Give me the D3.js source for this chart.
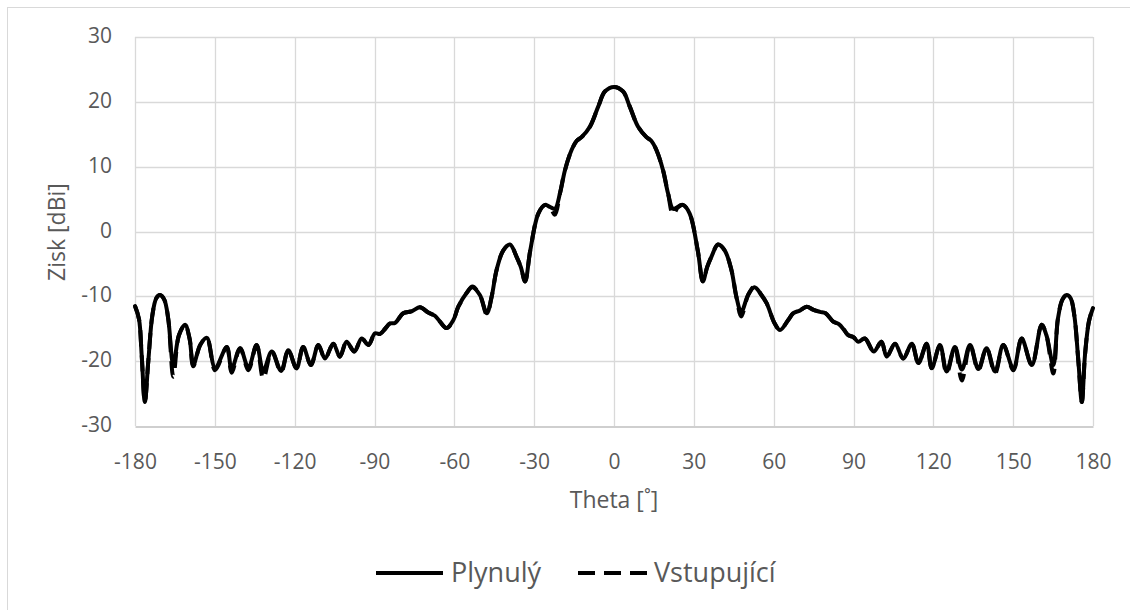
<!DOCTYPE html>
<html>
<head>
<meta charset="utf-8">
<script src="https://cdn.jsdelivr.net/npm/d3@7"></script>
<style>
  html, body { margin: 0; padding: 0; background: #fff; }
  svg { display: block; }
  text { font-family: "Open Sans", "Liberation Sans", sans-serif; fill: #595959; }
</style>
</head>
<body>
<svg id="chart" width="1130" height="610"></svg>
<script>
// ---- data ----
const seriesNames = ["Plynulý", "Vstupující"];
const xTicks = [-180, -150, -120, -90, -60, -30, 0, 30, 60, 90, 120, 150, 180];
const yTicks = [-30, -20, -10, 0, 10, 20, 30];

const theta = [
  -180, -178.5, -177.5, -176.3, -175, -173.5, -172, -170.6, -169, -167.5,
  -165.6, -163.5, -161.2, -159.5, -158.1, -155.5, -153, -149.9, -145.5, -143.7,
  -140.5, -137.4, -134.3, -131.8, -128.6, -125.1, -122.4, -119.3, -116.8, -113.9,
  -111.1, -108.6, -105.5, -103, -100.5, -97.6, -94.8, -92.3, -89.8, -87.9,
  -86, -84.2, -82.3, -79.2, -76, -72.9, -69.8, -67.3, -65.4, -62.9,
  -60.4, -58.5, -55.4, -53.2, -50.4, -47.8, -46, -44.1, -41.6, -39.1,
  -36.6, -35, -33.4, -31.5, -28.4, -25.9, -24.1, -22.2, -20.3, -18.4,
  -15.9, -14, -12.1, -9, -5.9, -3.4, 0, 3.4, 5.9, 9,
  12.1, 14, 15.9, 18.4, 20.3, 22.2, 24.1, 25.9, 28.4, 31.5,
  33.4, 35, 36.6, 39.1, 41.6, 44.1, 46, 47.8, 50.4, 52.8,
  55.4, 57.4, 60.4, 62.4, 65.4, 67.4, 69.8, 72.4, 75, 77.4,
  79.5, 82.4, 84.5, 86.5, 88, 90, 91.8, 94.3, 97.6, 100.5,
  102.5, 105.6, 108.7, 111.9, 114.4, 117.5, 119.4, 122.5, 125, 128.1,
  130.7, 133.8, 136.9, 140, 143.2, 146.3, 150.1, 153.2, 157, 160.7,
  162.5, 165.1, 166.8, 168.5, 170.1, 171.6, 173, 174.5, 175.8, 177,
  178.5, 180
];

const plynuly = [
  -11.5, -13.5, -19, -26.3, -20, -13, -10.3, -9.8, -10.5, -13.5,
  -20.6, -16, -14.4, -16.5, -20.6, -17.5, -16.4, -21, -17.8, -21.2,
  -18, -21, -17.5, -21.5, -18.5, -21.5, -18.3, -21.1, -17.8, -20.6,
  -17.5, -19.6, -17.3, -19.3, -17, -18.5, -16.5, -17.5, -15.7, -15.8,
  -15, -14.2, -14.1, -12.6, -12.3, -11.7, -12.5, -13, -13.9, -14.9,
  -13.7, -11.6, -9.5, -8.6, -9.8, -12.6, -10.1, -5.9, -2.9, -2,
  -3.9, -5.5, -7.7, -3, 2.8, 4.1, 3.8, 3.5, 5.9, 9.5,
  12.6, 14, 14.6, 16.2, 19.3, 21.6, 22.3, 21.6, 19.3, 16.2,
  14.6, 14, 12.6, 9.5, 5.9, 3.5, 3.8, 4.1, 2.8, -3,
  -7.7, -5.5, -3.9, -2, -2.9, -5.9, -10.1, -12.4, -9.8, -8.6,
  -9.8, -11.1, -14.2, -15.2, -13.7, -12.6, -12.2, -11.6, -12.1, -12.4,
  -12.6, -13.9, -14.3, -15.2, -16, -16.3, -17, -16.5, -18.5, -17,
  -19.3, -17.3, -19.6, -17.3, -20.3, -17.3, -21.1, -17.5, -21.6, -17.8,
  -21.3, -17.5, -21.2, -18, -21.6, -17.5, -21.2, -16.5, -20.6, -14.4,
  -16, -20.6, -13.5, -10.5, -9.8, -10.3, -13, -20, -26.3, -19,
  -13.8, -11.8
];

const vstupujici = [
  -11.5, -13.5, -19, -26.3, -20, -13, -10.3, -9.8, -10.5, -13.5,
  -22.4, -16, -14.4, -16.5, -20.8, -17.5, -16.4, -21.4, -17.8, -21.8,
  -18, -21.4, -17.5, -22.7, -18.5, -21.7, -18.3, -21.1, -17.8, -20.6,
  -17.5, -19.6, -17.3, -19.3, -17, -18.5, -16.5, -17.5, -15.7, -15.8,
  -15, -14.2, -14.1, -12.6, -12.3, -11.7, -12.5, -13, -13.9, -14.9,
  -13.7, -11.6, -9.5, -8.5, -9.8, -12.8, -10.1, -5.9, -2.9, -2,
  -3.9, -5.5, -7.7, -3, 2.8, 4.1, 3.8, 2.6, 5.9, 9.5,
  12.6, 14, 14.6, 16.2, 19.3, 21.6, 22.3, 21.6, 19.3, 16.2,
  14.6, 14, 12.6, 9.5, 5.9, 2.6, 3.8, 4.1, 2.8, -3,
  -7.7, -5.5, -3.9, -2, -2.9, -5.9, -10.1, -13.1, -9.8, -8.5,
  -9.8, -11.1, -14.2, -15.2, -13.7, -12.6, -12.2, -11.6, -12.1, -12.4,
  -12.6, -13.9, -14.3, -15.2, -16, -16.3, -17, -16.5, -18.5, -17,
  -19.3, -17.3, -19.6, -17.3, -20.3, -17.3, -21.1, -17.5, -21.9, -17.8,
  -23, -17.5, -21.4, -18, -21.9, -17.5, -21.4, -16.5, -20.6, -14.4,
  -16, -21.9, -13.5, -10.5, -9.8, -10.3, -13, -20, -26.3, -19,
  -13.8, -11.8
];

// ---- layout ----
const svg = d3.select("#chart");
const W = 1130, H = 610;
const plot = { left: 135, right: 1093, top: 37, bottom: 426 };

svg.append("rect")
  .attr("x", 7.5).attr("y", 7.5).attr("width", W).attr("height", H)
  .attr("fill", "#fff").attr("stroke", "#d9d9d9").attr("stroke-width", 1);

const x = d3.scaleLinear().domain([-180, 180]).range([plot.left, plot.right]);
const y = d3.scaleLinear().domain([-30, 30]).range([plot.bottom, plot.top]);

// gridlines
const grid = svg.append("g");
grid.selectAll(".hg").data(yTicks.filter(d => d !== -30)).enter().append("line")
  .attr("x1", plot.left).attr("x2", plot.right)
  .attr("y1", d => Math.round(y(d)) + 0.5).attr("y2", d => Math.round(y(d)) + 0.5)
  .attr("stroke", "#d9d9d9").attr("stroke-width", 1.3);
grid.selectAll(".vg").data(xTicks).enter().append("line")
  .attr("y1", plot.top).attr("y2", plot.bottom)
  .attr("x1", d => Math.round(x(d)) + 0.5).attr("x2", d => Math.round(x(d)) + 0.5)
  .attr("stroke", "#d9d9d9").attr("stroke-width", 1.3);

// axes
const fmt = d => String(d);
const xAxis = d3.axisBottom(x).tickValues(xTicks).tickSize(0).tickPadding(0).tickFormat(fmt);
const gx = svg.append("g").attr("transform", `translate(0,${Math.round(y(-30)) + 0.5})`).call(xAxis);
gx.select(".domain").attr("stroke", "#bfbfbf").attr("stroke-width", 1.3);
gx.selectAll("text").attr("dy", null).attr("y", 37).attr("dominant-baseline", "middle")
  .style("font-size", "21px").style("fill", "#595959")
  .style("font-family", '"Open Sans", sans-serif');

const yAxis = d3.axisLeft(y).tickValues(yTicks).tickSize(0).tickPadding(0).tickFormat(fmt);
const gy = svg.append("g").attr("transform", `translate(${plot.left},0)`).call(yAxis);
gy.select(".domain").remove();
gy.selectAll("text").attr("x", -23).attr("dy", null).attr("dominant-baseline", "middle")
  .style("font-size", "21px").style("fill", "#595959")
  .style("font-family", '"Open Sans", sans-serif');

// axis titles
svg.append("text").attr("x", (plot.left + plot.right) / 2).attr("y", 502)
  .attr("text-anchor", "middle").attr("dominant-baseline", "middle")
  .style("font-size", "23px").text("Theta [˚]");
svg.append("text").attr("transform", `translate(59,232) rotate(-90)`)
  .attr("text-anchor", "middle").attr("dominant-baseline", "middle")
  .style("font-size", "23px").text("Zisk [dBi]");

// lines
const line = d3.line().x(d => x(d[0])).y(d => y(d[1])).curve(d3.curveCatmullRom.alpha(0.5));
const dataP = theta.map((t, i) => [t, plynuly[i]]);
const dataV = theta.map((t, i) => [t, vstupujici[i]]);

svg.append("path").datum(dataP).attr("d", line)
  .attr("fill", "none").attr("stroke", "#000").attr("stroke-width", 4)
  .attr("stroke-linejoin", "round").attr("stroke-linecap", "round");
svg.append("path").datum(dataV).attr("d", line)
  .attr("fill", "none").attr("stroke", "#000").attr("stroke-width", 4)
  .attr("stroke-dasharray", "16,9").attr("stroke-linejoin", "round");

// legend
const lg = svg.append("g");
const legendItems = [
  { name: seriesNames[0], x1: 376, x2: 443, tx: 451, dash: null },
  { name: seriesNames[1], x1: 578, x2: 648, tx: 654, dash: "17,9" }
];
legendItems.forEach(it => {
  lg.append("line").attr("x1", it.x1).attr("x2", it.x2).attr("y1", 573).attr("y2", 573)
    .attr("stroke", "#000").attr("stroke-width", 4)
    .attr("stroke-dasharray", it.dash);
  lg.append("text").attr("x", it.tx).attr("y", 575).attr("dominant-baseline", "middle")
    .style("font-size", "27px").text(it.name);
});
</script>
</body>
</html>
